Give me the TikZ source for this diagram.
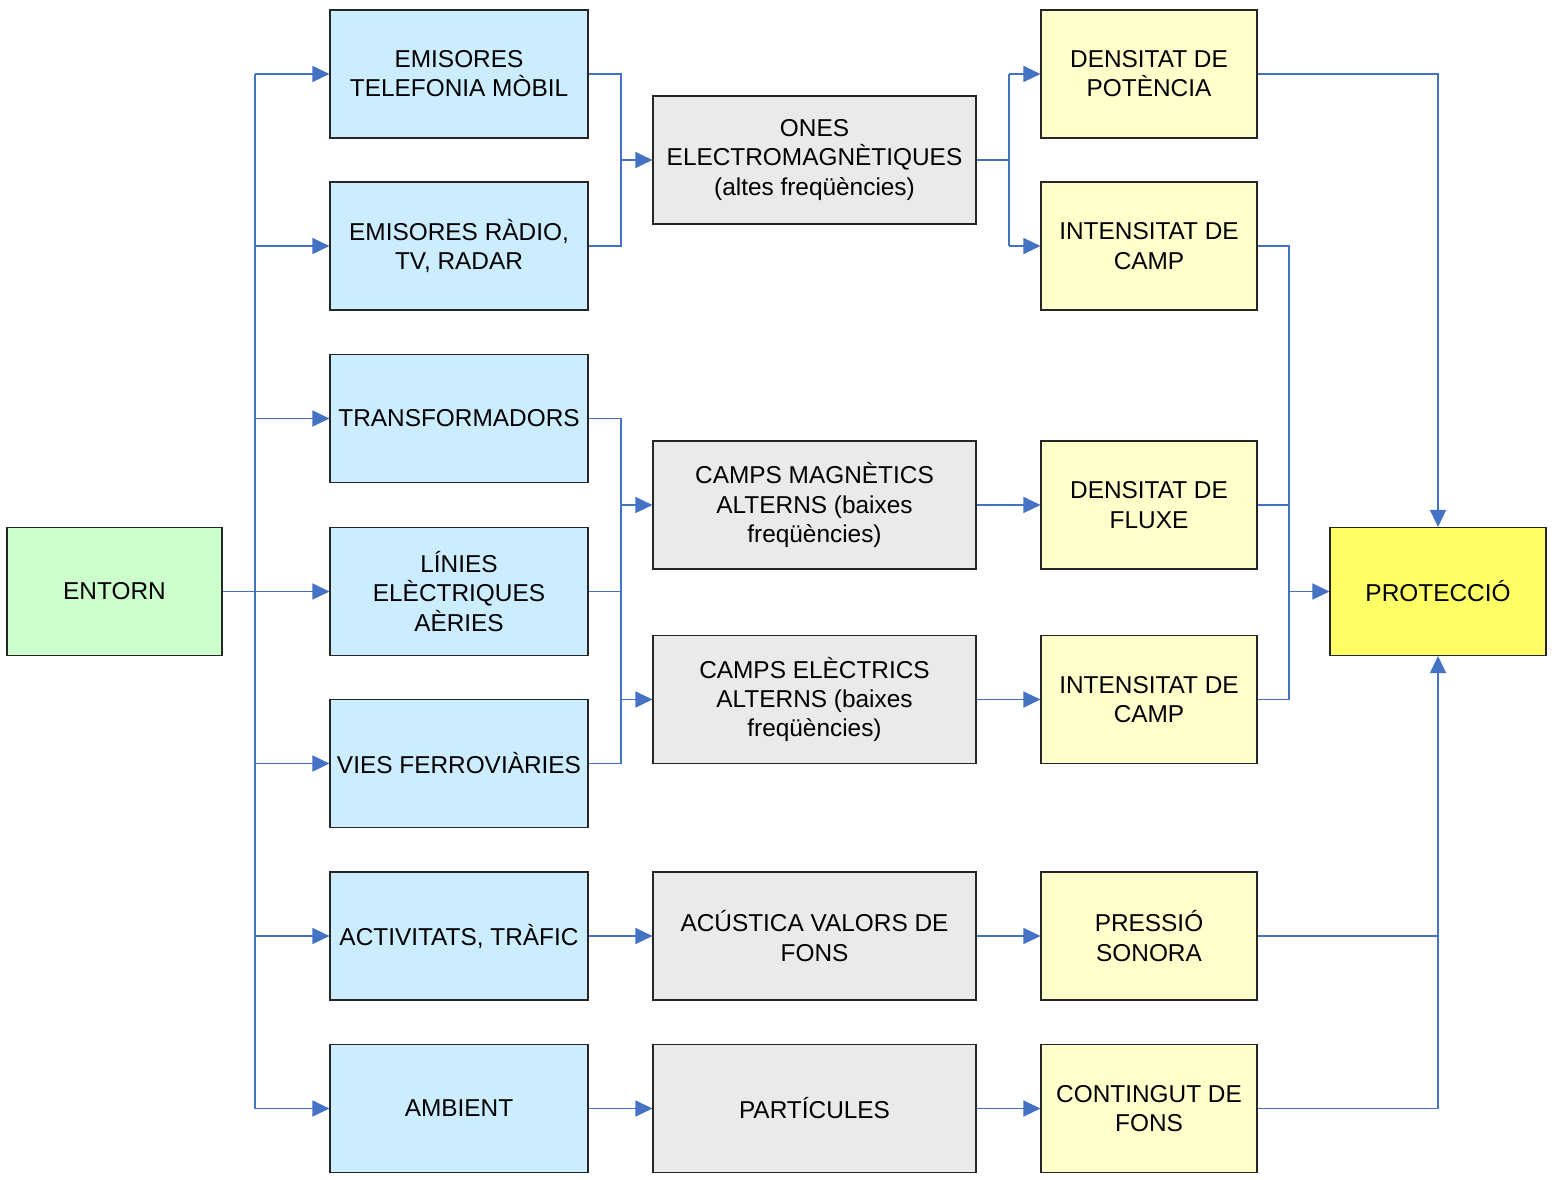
\documentclass[tikz,border=0pt]{standalone}
\usepackage{fontspec}
\setmainfont{Liberation Sans}
\usetikzlibrary{arrows.meta}
\definecolor{lineblue}{HTML}{4472C4}
\definecolor{fillblue}{HTML}{CCECFF}
\definecolor{fillgreen}{HTML}{CCFFCC}
\definecolor{fillgray}{HTML}{EAEAEA}
\definecolor{fillyellow}{HTML}{FFFFCC}
\definecolor{fillprot}{HTML}{FFFF66}
\tikzset{
  box/.style={draw=black!85, line width=1.1pt, inner sep=0pt, align=center,
    font=\fontsize{24.4}{29.2}\selectfont, minimum height=128pt},
  bluebox/.style={box, fill=fillblue, minimum width=258pt},
  greenbox/.style={box, fill=fillgreen, minimum width=215pt},
  graybox/.style={box, fill=fillgray, minimum width=323pt},
  yelbox/.style={box, fill=fillyellow, minimum width=216pt},
  protbox/.style={box, fill=fillprot, minimum width=216pt},
  wire/.style={draw=lineblue, line width=1.2pt},
  conn/.style={wire, -{Triangle[length=17pt,width=16pt]}},
}
\begin{document}
\begin{tikzpicture}[x=1pt,y=-1pt]
\path[fill=white] (0,0) rectangle (1552,1180);
\useasboundingbox (0,0) rectangle (1552,1180);
\coordinate (bus) at (255,0);
\coordinate (j1) at (621,0);
\coordinate (j2) at (1009,0);
\coordinate (j3) at (1289,0);

\node[greenbox] (entorn) at (114.5,591.5) {ENTORN};

\node[bluebox] (b1) at (459,74) {EMISORES\\TELEFONIA MÒBIL};
\node[bluebox] (b2) at (459,246) {EMISORES RÀDIO,\\TV, RADAR};
\node[bluebox] (b3) at (459,418.5) {TRANSFORMADORS};
\node[bluebox] (b4) at (459,591.5) {LÍNIES\\ELÈCTRIQUES\\AÈRIES};
\node[bluebox] (b5) at (459,763.5) {VIES FERROVIÀRIES};
\node[bluebox] (b6) at (459,936) {ACTIVITATS, TRÀFIC};
\node[bluebox] (b7) at (459,1108.5) {AMBIENT};

\node[graybox] (g1) at (814.5,160) {ONES\\ELECTROMAGNÈTIQUES\\(altes freqüències)};
\node[graybox] (g2) at (814.5,505) {CAMPS MAGNÈTICS\\ALTERNS (baixes\\freqüències)};
\node[graybox] (g3) at (814.5,699.5) {CAMPS ELÈCTRICS\\ALTERNS (baixes\\freqüències)};
\node[graybox] (g4) at (814.5,936) {ACÚSTICA VALORS DE\\FONS};
\node[graybox] (g5) at (814.5,1108.5) {PARTÍCULES};

\node[yelbox] (y1) at (1149,74) {DENSITAT DE\\POTÈNCIA};
\node[yelbox] (y2) at (1149,246) {INTENSITAT DE\\CAMP};
\node[yelbox] (y3) at (1149,505) {DENSITAT DE\\FLUXE};
\node[yelbox] (y4) at (1149,699.5) {INTENSITAT DE\\CAMP};
\node[yelbox] (y5) at (1149,936) {PRESSIÓ\\SONORA};
\node[yelbox] (y6) at (1149,1108.5) {CONTINGUT DE\\FONS};

\node[protbox] (prot) at (1438,591.5) {PROTECCIÓ};

% entorn bus
\draw[wire] (b1.west -| bus) -- (b7.west -| bus);
\draw[conn] (entorn.east) -- (b4.west);
\foreach \b in {b1,b2,b3,b5,b6,b7}{
  \draw[conn] (\b.west -| bus) -- (\b.west);
}

% blue -> gray
\draw[wire] (b1.east) -- (b1.east -| j1) -- (b2.east -| j1) -- (b2.east);
\draw[conn] (g1.west -| j1) -- (g1.west);
\draw[wire] (b3.east) -- (b3.east -| j1) -- (b5.east -| j1) -- (b5.east);
\draw[wire] (b4.east) -- (b4.east -| j1);
\draw[conn] (g2.west -| j1) -- (g2.west);
\draw[conn] (g3.west -| j1) -- (g3.west);
\draw[conn] (b6.east) -- (g4.west);
\draw[conn] (b7.east) -- (g5.west);

% gray -> yellow
\draw[wire] (g1.east) -- (g1.east -| j2);
\draw[wire] (y1.west -| j2) -- (y2.west -| j2);
\draw[conn] (y1.west -| j2) -- (y1.west);
\draw[conn] (y2.west -| j2) -- (y2.west);
\draw[conn] (g2.east) -- (y3.west);
\draw[conn] (g3.east) -- (y4.west);
\draw[conn] (g4.east) -- (y5.west);
\draw[conn] (g5.east) -- (y6.west);

% yellow -> protecció
\draw[conn] (y1.east) -| (prot.north);
\draw[wire] (y2.east) -- (y2.east -| j3) -- (y4.east -| j3) -- (y4.east);
\draw[wire] (y3.east) -- (y3.east -| j3);
\draw[conn] (prot.west -| j3) -- (prot.west);
\draw[wire] (y5.east) -- (y5.east -| prot.south);
\draw[conn] (y6.east) -| (prot.south);
\end{tikzpicture}
\end{document}
